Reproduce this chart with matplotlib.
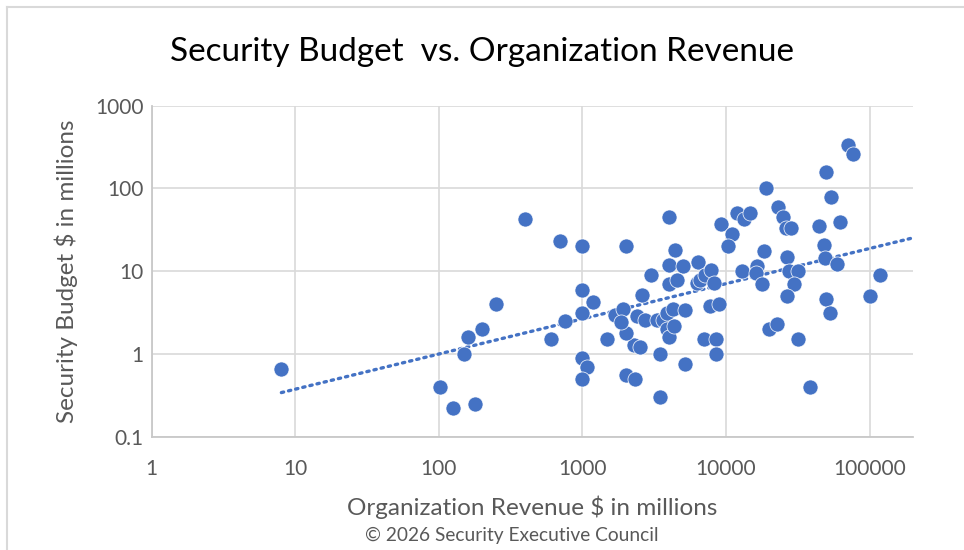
import matplotlib
matplotlib.use("Agg")
import matplotlib.pyplot as plt
import matplotlib.ticker as mticker
from matplotlib.lines import Line2D
import numpy as np

# revenue ($M) and security budget ($M)
revenue = [8, 400, 250, 200, 160, 150, 102, 125, 180,
           700, 1000, 2000, 4000, 4400, 1000, 1190, 1000, 760, 600,
           1000, 1070, 1000, 1480, 2000, 2330, 3500, 3500, 5150, 2270,
           2500, 2000,
           3000, 2600, 1700, 1930, 1850, 2400, 2750, 3300, 3650, 3880,
           3880, 4000, 4360, 4300, 5200, 4000, 5000, 4000, 4560, 6400,
           6300, 6600, 7200, 7900, 8200, 7000, 8500, 8500, 7700, 9000,
           9300, 11000, 10400, 12000, 13300, 14800, 19000, 23000, 25000,
           26000, 28500, 18300, 26600, 12900, 16400, 16100, 17800, 27500,
           32000, 29800, 26600, 19800, 22500, 32000, 38700, 50000, 53000,
           100000, 119000, 44700, 62000, 53800, 50000, 70800, 76200,
           48000, 48700, 59500]
budget = [0.66, 43, 4.0, 2.0, 1.6, 1.0, 0.40, 0.22, 0.25,
          23, 20, 20, 45, 18, 6.0, 4.3, 3.1, 2.5, 1.5,
          0.9, 0.7, 0.5, 1.5, 0.56, 0.5, 0.3, 1.0, 0.75, 1.3,
          1.2, 1.8,
          9.0, 5.2, 2.95, 3.5, 2.4, 2.9, 2.6, 2.6, 2.6, 3.1,
          2.0, 1.6, 2.2, 3.5, 3.4, 12, 11.7, 7.0, 7.8, 13,
          7.2, 7.8, 9.0, 10.4, 7.2, 1.5, 1.5, 1.0, 3.8, 4.0,
          37, 28, 20, 50, 43, 50, 100, 60, 45,
          33, 33, 17.5, 15, 10, 11.4, 9.4, 7.1, 10,
          10, 7.1, 5.0, 2.0, 2.3, 1.5, 0.4, 4.6, 3.15,
          5.0, 9.0, 35, 39, 78, 157, 336, 261,
          21, 14.3, 12.3]

# power trendline y = a * x^b as shown on the reference
trend_a = 0.141
trend_b = 0.425

x_ticks = [1, 10, 100, 1000, 10000, 100000]
y_ticks = [0.1, 1, 10, 100, 1000]

title = "Security Budget  vs. Organization Revenue"
x_label = "Organization Revenue $ in millions"
y_label = "Security Budget $ in millions"
credit = "\u00a9 2026 Security Executive Council"

blue = "#4472C4"
grey_text = "#595959"

plt.rcParams['font.family'] = ['Lato', 'DejaVu Sans']

fig = plt.figure(figsize=(9.64, 5.5), dpi=100)
ax = fig.add_axes([0.1574, 0.206, 0.7894, 0.6018])

ax.scatter(revenue, budget, s=118, color=blue, edgecolors='white',
           linewidths=0.5, zorder=3)

x_hi = 200000
tx = np.logspace(np.log10(min(revenue)), np.log10(x_hi), 50)
ax.plot(tx, trend_a * tx ** trend_b, color=blue, lw=2.4,
        linestyle=(0, (0.7, 1.5)), dash_capstyle='round', zorder=2)

ax.set_xscale('log')
ax.set_yscale('log')
ax.set_xlim(1, x_hi)
ax.set_ylim(0.1, 1000)
ax.xaxis.set_major_locator(mticker.FixedLocator(x_ticks))
ax.yaxis.set_major_locator(mticker.FixedLocator(y_ticks))
ax.xaxis.set_minor_locator(mticker.NullLocator())
ax.yaxis.set_minor_locator(mticker.NullLocator())
ax.set_xticklabels([str(v) for v in x_ticks])
ax.set_yticklabels([("%g" % v) for v in y_ticks])
ax.tick_params(length=0, labelsize=15, colors=grey_text)
ax.tick_params(axis='x', pad=16)
ax.tick_params(axis='y', pad=6)

ax.grid(True, color='#D9D9D9', lw=1.2)
ax.set_axisbelow(True)
for side in ['top', 'right']:
    ax.spines[side].set_visible(False)
for side in ['left', 'bottom']:
    ax.spines[side].set_color('#C8C8C8')
    ax.spines[side].set_linewidth(1.3)

ax.set_xlabel(x_label, fontsize=17.5, color=grey_text, labelpad=12)
ax.set_ylabel(y_label, fontsize=17.5, color=grey_text, labelpad=12)
fig.text(0.5, 0.905, title, ha='center', va='center', fontsize=24,
         color='black')
fig.text(0.531, 0.027, credit, ha='center', va='center', fontsize=13.8,
         color=grey_text)

# chart area border (top and left edges only are in view)
fig.add_artist(Line2D([0.0073, 1.0], [0.9875, 0.9875],
                      transform=fig.transFigure, color='#D9D9D9', lw=1.5))
fig.add_artist(Line2D([0.0073, 0.0073], [0.0, 0.9875],
                      transform=fig.transFigure, color='#D9D9D9', lw=1.5))

fig.savefig("out.png", dpi=100)
